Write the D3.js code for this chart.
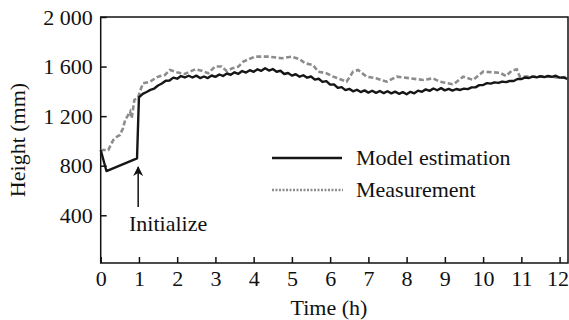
<!DOCTYPE html>
<html>
<head>
<meta charset="utf-8">
<script src="https://cdn.jsdelivr.net/npm/d3@7"></script>
<style>
  body { margin: 0; background: #fff; }
  svg { display: block; font-family: "Liberation Serif", "Times New Roman", serif; }
</style>
</head>
<body>
<div id="chart"></div>
<script>
// model estimation (black line)
const modelTime = [0, 0.15, 0.95,
  1.0, 1.1, 1.2, 1.3, 1.4, 1.5, 1.6, 1.7, 1.8, 1.9,
  2.0, 2.1, 2.2, 2.3, 2.4, 2.5, 2.6, 2.7, 2.8, 2.9,
  3.0, 3.1, 3.2, 3.3, 3.4, 3.5, 3.6, 3.7, 3.8, 3.9,
  4.0, 4.1, 4.2, 4.3, 4.4, 4.5, 4.6, 4.7, 4.8, 4.9,
  5.0, 5.1, 5.2, 5.3, 5.4, 5.5, 5.6, 5.7, 5.8, 5.9,
  6.0, 6.1, 6.2, 6.3, 6.4, 6.5, 6.6, 6.7, 6.8, 6.9,
  7.0, 7.1, 7.2, 7.3, 7.4, 7.5, 7.6, 7.7, 7.8, 7.9,
  8.0, 8.1, 8.2, 8.3, 8.4, 8.5, 8.6, 8.7, 8.8, 8.9,
  9.0, 9.1, 9.2, 9.3, 9.4, 9.5, 9.6, 9.7, 9.8, 9.9,
  10.0, 10.1, 10.2, 10.3, 10.4, 10.5, 10.6, 10.7, 10.8, 10.9,
  11.0, 11.1, 11.2, 11.3, 11.4, 11.5, 11.6, 11.7, 11.8, 11.9,
  12.0, 12.1, 12.2];
const modelHeight = [927, 757, 860,
  1352, 1380, 1395, 1412, 1423, 1447, 1463, 1486, 1488, 1511,
  1502, 1523, 1512, 1526, 1512, 1527, 1507, 1520, 1507, 1528,
  1517, 1536, 1524, 1544, 1534, 1554, 1542, 1564, 1552, 1571,
  1558, 1578, 1566, 1586, 1568, 1580, 1558, 1566, 1540, 1548,
  1527, 1538, 1518, 1530, 1510, 1520, 1495, 1502, 1476, 1482,
  1454, 1456, 1428, 1434, 1410, 1420, 1400, 1413, 1394, 1408,
  1390, 1405, 1388, 1403, 1386, 1401, 1384, 1398, 1380, 1394,
  1377, 1396, 1384, 1406, 1396, 1416, 1404, 1423, 1409, 1426,
  1408, 1420, 1406, 1419, 1411, 1422, 1418, 1432, 1432, 1450,
  1451, 1466, 1462, 1473, 1468, 1479, 1474, 1484, 1484, 1500,
  1499, 1512, 1508, 1519, 1513, 1522, 1515, 1524, 1517, 1526,
  1511, 1512, 1500];

// measurement (grey dotted line)
const measTime = [0, 0.2, 0.25, 0.33, 0.45, 0.5, 0.58, 0.64, 0.72, 0.77, 0.81, 0.88, 0.98,
  1.05, 1.11, 1.29, 1.5, 1.68, 1.81, 1.99, 2.2, 2.47, 2.64, 2.81, 2.99,
  3.16, 3.29, 3.45, 3.6, 3.73, 4.03, 4.4, 4.73, 5.0, 5.2, 5.34, 5.55, 5.69, 5.9,
  6.08, 6.25, 6.43, 6.6, 6.73, 6.95, 7.2, 7.48, 7.74, 8.1, 8.43, 8.69, 8.87,
  9.0, 9.2, 9.26, 9.48, 9.74, 10.0, 10.44, 10.6, 10.75, 10.88, 10.96,
  11.4, 11.75, 12.0, 12.22];
const measHeight = [927, 927, 960, 1008, 1040, 1048, 1100, 1169, 1210, 1236, 1183, 1330, 1352,
  1420, 1465, 1478, 1519, 1532, 1573, 1554, 1540, 1578, 1567, 1546, 1600,
  1600, 1565, 1587, 1600, 1640, 1680, 1680, 1667, 1680, 1660, 1627, 1613, 1559, 1546,
  1519, 1500, 1478, 1559, 1573, 1519, 1505, 1478, 1519, 1505, 1492, 1505, 1478,
  1470, 1458, 1465, 1519, 1492, 1559, 1550, 1524, 1567, 1578, 1519,
  1519, 1522, 1508, 1517];

const xTicks = [0, 1, 2, 3, 4, 5, 6, 7, 8, 9, 10, 11, 12];
const yTicks = [400, 800, 1200, 1600, 2000];
const yTickLabels = ['400', '800', '1 200', '1 600', '2 000'];
const seriesNames = ['Model estimation', 'Measurement'];

const width = 569, height = 320;
const fontSize = 22;

const svg = d3.select('#chart')
  .append('svg')
  .attr('width', width)
  .attr('height', height);

const x = d3.scaleLinear().domain([0, 12.22]).range([100.7, 568]);
const y = d3.scaleLinear().domain([15, 2000]).range([263, 17]);

// frame
svg.append('rect')
  .attr('x', x.range()[0])
  .attr('y', y.range()[1])
  .attr('width', x.range()[1] - x.range()[0])
  .attr('height', y.range()[0] - y.range()[1])
  .attr('fill', 'none')
  .attr('stroke', '#111')
  .attr('stroke-width', 1.5);

// axes, ticks pointing inward
const xAxis = svg.append('g')
  .attr('transform', 'translate(0,' + y.range()[0] + ')')
  .call(d3.axisBottom(x).tickValues(xTicks).tickSizeInner(-6).tickSizeOuter(0).tickPadding(7));

const yAxis = svg.append('g')
  .attr('transform', 'translate(' + x.range()[0] + ',0)')
  .call(d3.axisLeft(y).tickValues(yTicks).tickSizeInner(-6).tickSizeOuter(0).tickPadding(8)
    .tickFormat((d, i) => yTickLabels[i]));

[xAxis, yAxis].forEach(g => {
  g.select('.domain').remove();
  g.selectAll('line').attr('stroke', '#111').attr('stroke-width', 1.5);
  g.selectAll('text')
    .attr('fill', '#111')
    .style('font-size', fontSize + 'px')
    .style('font-family', '"Liberation Serif", "Times New Roman", serif');
});
// last label sits against the right edge
xAxis.selectAll('.tick text').filter(d => d === 12).attr('dx', -2);

// axis titles
svg.append('text')
  .attr('x', 329)
  .attr('y', 315)
  .attr('text-anchor', 'middle')
  .attr('fill', '#111')
  .style('font-size', fontSize + 'px')
  .text('Time (h)');

svg.append('text')
  .attr('transform', 'translate(25,140) rotate(-90)')
  .attr('text-anchor', 'middle')
  .attr('fill', '#111')
  .style('font-size', fontSize + 'px')
  .text('Height (mm)');

// lines
const modelData = modelTime.map((t, i) => [t, modelHeight[i]]);
const measData = measTime.map((t, i) => [t, measHeight[i]]);

const line = d3.line()
  .x(d => x(d[0]))
  .y(d => y(d[1]));

svg.append('path')
  .datum(measData)
  .attr('d', line)
  .attr('fill', 'none')
  .attr('stroke', '#8c8c8c')
  .attr('stroke-width', 2.6)
  .attr('stroke-dasharray', '5,2.5');

svg.append('path')
  .datum(modelData)
  .attr('d', line)
  .attr('fill', 'none')
  .attr('stroke', '#161616')
  .attr('stroke-width', 2.4)
  .attr('stroke-linejoin', 'round');

// legend
const legend = svg.append('g');
legend.append('line')
  .attr('x1', 272).attr('x2', 342)
  .attr('y1', 158).attr('y2', 158)
  .attr('stroke', '#161616')
  .attr('stroke-width', 2.6);
legend.append('line')
  .attr('x1', 272).attr('x2', 343)
  .attr('y1', 190).attr('y2', 190)
  .attr('stroke', '#8c8c8c')
  .attr('stroke-width', 2.6)
  .attr('stroke-dasharray', '2,1.5');
legend.selectAll('text.leg')
  .data(seriesNames)
  .enter()
  .append('text')
  .attr('class', 'leg')
  .attr('x', 356)
  .attr('y', (d, i) => 165 + i * 32)
  .attr('fill', '#111')
  .style('font-size', fontSize + 'px')
  .text(d => d);

// annotation arrow
const defs = svg.append('defs');
defs.append('marker')
  .attr('id', 'arrow')
  .attr('viewBox', '0 0 10 10')
  .attr('refX', 9)
  .attr('refY', 5)
  .attr('markerWidth', 10)
  .attr('markerHeight', 10)
  .attr('markerUnits', 'userSpaceOnUse')
  .attr('orient', 'auto')
  .append('path')
  .attr('d', 'M0,0 L10,5 L0,10 L3,5 Z')
  .attr('fill', '#111');

svg.append('line')
  .attr('x1', x(0.98)).attr('x2', x(0.98))
  .attr('y1', 207).attr('y2', 167)
  .attr('stroke', '#111')
  .attr('stroke-width', 1.5)
  .attr('marker-end', 'url(#arrow)');

svg.append('text')
  .attr('x', 129)
  .attr('y', 231)
  .attr('fill', '#111')
  .style('font-size', fontSize + 'px')
  .text('Initialize');
</script>
</body>
</html>
